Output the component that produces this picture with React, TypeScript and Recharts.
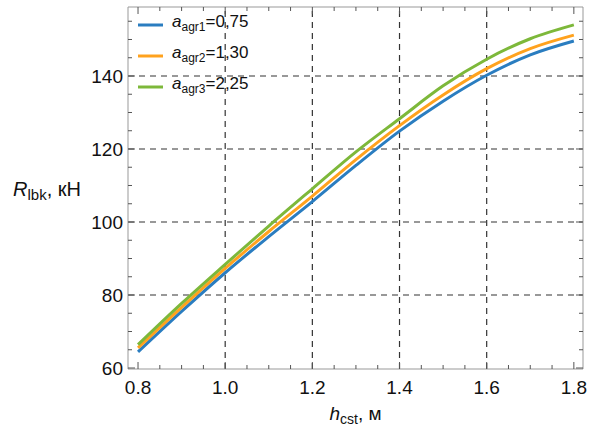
import React from 'react';
import { LineChart, Line, XAxis, YAxis, ReferenceLine } from 'recharts';

const hValues = [0.8, 0.9, 1.0, 1.1, 1.2, 1.3, 1.4, 1.5, 1.6, 1.7, 1.8];
const agr1 = [64.4, 75.5, 86.1, 96.0, 105.6, 115.5, 124.9, 133.1, 140.2, 145.8, 149.6];
const agr2 = [65.5, 76.6, 87.3, 97.4, 107.1, 117.1, 126.4, 134.8, 142.0, 147.5, 151.2];
const agr3 = [66.4, 77.7, 88.4, 98.9, 109.1, 119.2, 128.3, 137.3, 144.6, 150.2, 154.0];

const seriesNames = ['agr1', 'agr2', 'agr3'];
const seriesLabels = ['0,75', '1,30', '2,25'];
const seriesColors = ['#2a7dc0', '#ffa21e', '#7db83a'];

const xMajor = [0.8, 1.0, 1.2, 1.4, 1.6, 1.8];
const xTicks = [0.8, 0.85, 0.9, 0.95, 1.0, 1.05, 1.1, 1.15, 1.2, 1.25, 1.3, 1.35, 1.4, 1.45, 1.5, 1.55, 1.6, 1.65, 1.7, 1.75, 1.8];
const yMajor = [60, 80, 100, 120, 140];
const yTicks = [60, 65, 70, 75, 80, 85, 90, 95, 100, 105, 110, 115, 120, 125, 130, 135, 140, 145, 150, 155];
const xGrid = [1.0, 1.2, 1.4, 1.6];
const yGrid = [80, 100, 120, 140];

const data = hValues.map((h, i) => ({ h, agr1: agr1[i], agr2: agr2[i], agr3: agr3[i] }));

const FONT = '"Liberation Sans", Arial, sans-serif';
const FRAME = '#999999';
const TICKCOL = '#555555';

const isMajor = (arr: number[], v: number) => arr.some((m) => Math.abs(m - v) < 1e-6);

const BottomTick = (props: any) => {
  const { x, y, payload } = props;
  const v = payload.value;
  const major = isMajor(xMajor, v);
  return (
    <g>
      <line x1={x} x2={x} y1={y} y2={y - (major ? 7 : 4)} stroke={TICKCOL} strokeWidth={1} />
      {major && (
        <text x={x} y={y + 25} textAnchor="middle" fontSize={19} fontFamily={FONT} fill="#111">
          {v.toFixed(1)}
        </text>
      )}
    </g>
  );
};

const TopTick = (props: any) => {
  const { x, y, payload } = props;
  const major = isMajor(xMajor, payload.value);
  return <line x1={x} x2={x} y1={y} y2={y + (major ? 7 : 4)} stroke={TICKCOL} strokeWidth={1} />;
};

const LeftTick = (props: any) => {
  const { x, y, payload } = props;
  const v = payload.value;
  const major = isMajor(yMajor, v);
  return (
    <g>
      <line x1={x} x2={x + (major ? 7 : 4)} y1={y} y2={y} stroke={TICKCOL} strokeWidth={1} />
      {major && (
        <text x={x - 5} y={y + 7} textAnchor="end" fontSize={19} fontFamily={FONT} fill="#111">
          {v}
        </text>
      )}
    </g>
  );
};

const RightTick = (props: any) => {
  const { x, y, payload } = props;
  const major = isMajor(yMajor, payload.value);
  return <line x1={x} x2={x - (major ? 7 : 4)} y1={y} y2={y} stroke={TICKCOL} strokeWidth={1} />;
};

const XTitle = (props: any) => {
  const vb = props.viewBox || { x: 128, y: 369, width: 455, height: 61 };
  const cx = vb.x + vb.width / 2;
  return (
    <text x={cx} y={vb.y + 51} textAnchor="middle" fontSize={19} fontFamily={FONT} fill="#111">
      <tspan fontStyle="italic">h</tspan>
      <tspan fontSize={14} dy={4}>cst</tspan>
      <tspan dy={-4}>, м</tspan>
    </text>
  );
};

const YTitle = (props: any) => {
  const vb = props.viewBox || { x: 0, y: 7, width: 128, height: 362 };
  const cy = vb.y + vb.height / 2;
  return (
    <text x={vb.x + 13} y={cy + 8} textAnchor="start" fontSize={20} fontFamily={FONT} fill="#111">
      <tspan fontStyle="italic">R</tspan>
      <tspan fontSize={15} dy={4}>lbk</tspan>
      <tspan dy={-4}>, кН</tspan>
    </text>
  );
};

const LegendBox = () => (
  <div style={{ position: 'absolute', left: 138, top: 9, fontFamily: FONT, pointerEvents: 'none' }}>
    {seriesNames.map((n, i) => (
      <div key={n} style={{ display: 'flex', alignItems: 'center', height: 31 }}>
        <svg width={34} height={10} style={{ display: 'block' }}>
          <line x1={0} x2={25} y1={5} y2={5} stroke={seriesColors[i]} strokeWidth={3} />
        </svg>
        <span style={{ fontSize: 17, color: '#111', lineHeight: '20px' }}>
          <i>a</i>
          <sub style={{ fontSize: 12, verticalAlign: '-4px' }}>{n}</sub>={seriesLabels[i]}
        </span>
      </div>
    ))}
  </div>
);

export default function App() {
  return (
    <div style={{ position: 'absolute', left: 0, top: 0, width: 590, height: 430, background: '#fff' }}>
      <LineChart width={590} height={430} data={data} margin={{ top: 6, right: 6, bottom: 0, left: 0 }}>
        <XAxis
          xAxisId="b"
          dataKey="h"
          type="number"
          domain={[0.777, 1.821]}
          ticks={xTicks}
          interval={0}
          tick={<BottomTick />}
          tickLine={false}
          tickSize={0}
          tickMargin={0}
          height={61}
          axisLine={{ stroke: FRAME }}
          allowDataOverflow
          label={<XTitle />}
        />
        <XAxis
          xAxisId="t"
          orientation="top"
          dataKey="h"
          type="number"
          domain={[0.777, 1.821]}
          ticks={xTicks}
          interval={0}
          tick={<TopTick />}
          tickLine={false}
          tickSize={0}
          tickMargin={0}
          height={1}
          axisLine={{ stroke: FRAME }}
          allowDataOverflow
        />
        <YAxis
          yAxisId="l"
          type="number"
          domain={[59.73, 158.9]}
          ticks={yTicks}
          interval={0}
          tick={<LeftTick />}
          tickLine={false}
          tickSize={0}
          tickMargin={0}
          width={128}
          axisLine={{ stroke: FRAME }}
          allowDataOverflow
          label={<YTitle />}
        />
        <YAxis
          yAxisId="r"
          orientation="right"
          type="number"
          domain={[59.73, 158.9]}
          ticks={yTicks}
          interval={0}
          tick={<RightTick />}
          tickLine={false}
          tickSize={0}
          tickMargin={0}
          width={1}
          axisLine={{ stroke: FRAME }}
          allowDataOverflow
        />
        {xGrid.map((v) => (
          <ReferenceLine key={'x' + v} x={v} xAxisId="b" yAxisId="l" stroke="#333" strokeDasharray="6 5" strokeWidth={1.2} />
        ))}
        {yGrid.map((v) => (
          <ReferenceLine key={'y' + v} y={v} xAxisId="b" yAxisId="l" stroke="#333" strokeDasharray="6 5" strokeWidth={1.2} />
        ))}
        {seriesNames.map((n, i) => (
          <Line
            key={n}
            xAxisId="b"
            yAxisId="l"
            type="monotone"
            dataKey={n}
            stroke={seriesColors[i]}
            strokeWidth={3}
            dot={false}
            isAnimationActive={false}
          />
        ))}
      </LineChart>
      <LegendBox />
    </div>
  );
}
